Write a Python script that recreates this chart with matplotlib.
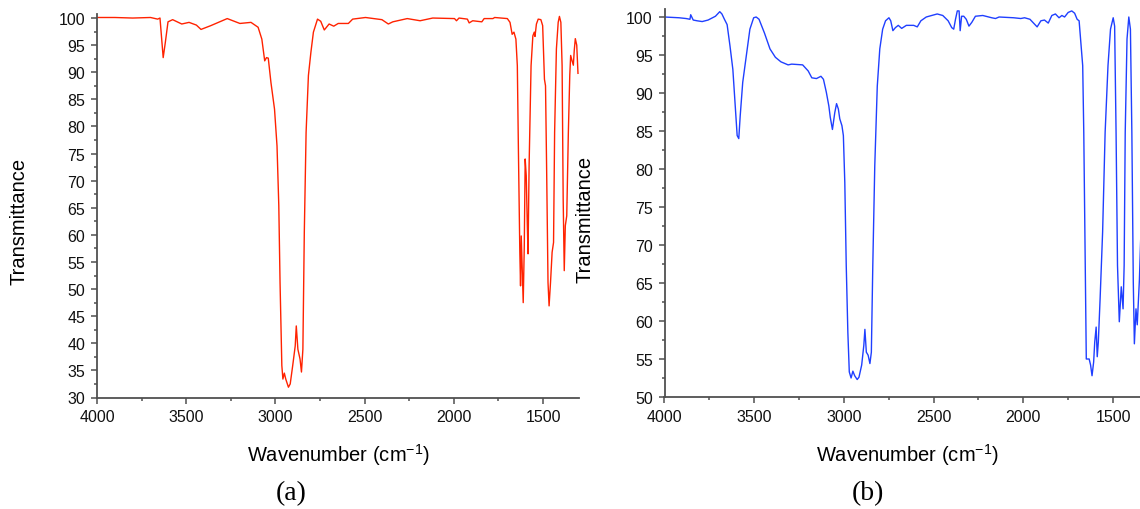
import matplotlib
matplotlib.use("Agg")
import matplotlib.pyplot as plt
from matplotlib.ticker import MultipleLocator

plt.rcParams['font.family'] = ['Liberation Sans', 'DejaVu Sans']
plt.rcParams['mathtext.fontset'] = 'custom'
plt.rcParams['mathtext.rm'] = 'Liberation Sans'
plt.rcParams['mathtext.default'] = 'regular'

# spectrum (a): wavenumber (cm-1) and transmittance (%)
wn_a = [4000, 3900, 3800, 3700, 3660, 3647, 3629, 3617, 3602, 3576, 3525, 3484,
        3443, 3417, 3362, 3270, 3199, 3137, 3097, 3076, 3060, 3050, 3040, 3025,
        3005, 2991, 2981, 2974, 2964, 2958, 2950, 2942, 2927, 2917, 2903, 2889,
        2883, 2874, 2862, 2854, 2846, 2838, 2828, 2815, 2801, 2787, 2764, 2746,
        2726, 2699, 2673, 2648, 2591, 2567, 2495, 2403, 2367, 2342, 2261, 2189,
        2118, 1996, 1985, 1971, 1924, 1914, 1894, 1843, 1830, 1781, 1771, 1700,
        1685, 1673, 1663, 1652, 1644, 1638, 1630, 1626, 1622, 1616, 1611, 1605,
        1600, 1594, 1588, 1584, 1578, 1567, 1557, 1549, 1545, 1537, 1527, 1512,
        1502, 1492, 1486, 1480, 1472, 1466, 1458, 1449, 1441, 1435, 1425, 1415,
        1408, 1400, 1393, 1387, 1381, 1375, 1367, 1358, 1350, 1345, 1338, 1330,
        1325, 1319, 1311, 1304]
tr_a = [100.1, 100.1, 100.0, 100.1, 99.8, 100.0, 92.7, 95.5, 99.3, 99.7, 98.9, 99.2,
        98.7, 97.9, 98.6, 99.9, 99.0, 99.2, 98.3, 96.1, 92.1, 92.7, 92.6, 88.1,
        83.2, 76.4, 65.4, 51.2, 35.9, 33.4, 34.5, 33.4, 31.9, 32.5, 35.9, 39.5,
        43.2, 38.9, 37.1, 34.7, 38.9, 60.5, 78.9, 89.4, 93.7, 97.4, 99.8, 99.4,
        97.8, 98.9, 98.5, 99.0, 99.0, 99.8, 100.1, 99.7, 98.9, 99.3, 99.9, 99.5,
        100.0, 99.9, 99.5, 100.0, 99.8, 99.1, 99.5, 99.3, 99.9, 99.9, 100.1, 99.9,
        99.2, 97.0, 97.4, 96.1, 91.2, 75.8, 56.8, 50.6, 59.8, 53.1, 47.5, 58.0,
        74.0, 70.9, 61.7, 56.5, 72.8, 91.2, 96.7, 97.4, 96.6, 98.9, 99.8, 99.7,
        98.6, 88.7, 87.5, 72.8, 51.2, 46.9, 51.2, 56.8, 58.6, 78.9, 94.3, 99.2,
        100.3, 99.2, 91.2, 66.6, 53.4, 61.7, 63.5, 78.9, 89.5, 93.1, 92.2, 91.3,
        94.0, 96.2, 95.0, 89.8]

# spectrum (b)
wn_b = [4000, 3919, 3880, 3858, 3854, 3840, 3818, 3790, 3757, 3716, 3692, 3680,
        3666, 3651, 3635, 3619, 3605, 3595, 3586, 3578, 3564, 3544, 3524, 3503,
        3489, 3473, 3443, 3412, 3382, 3351, 3311, 3291, 3230, 3199, 3179, 3153,
        3128, 3114, 3098, 3084, 3076, 3064, 3051, 3041, 3031, 3023, 3011, 3003,
        2995, 2987, 2978, 2970, 2960, 2950, 2940, 2926, 2916, 2901, 2889, 2883,
        2875, 2865, 2855, 2847, 2839, 2828, 2814, 2800, 2784, 2768, 2749, 2739,
        2727, 2713, 2697, 2678, 2652, 2611, 2591, 2571, 2541, 2480, 2449, 2419,
        2399, 2388, 2378, 2368, 2358, 2352, 2344, 2332, 2318, 2303, 2287, 2267,
        2226, 2176, 2155, 2135, 2054, 2014, 1993, 1963, 1923, 1902, 1882, 1861,
        1841, 1821, 1801, 1785, 1770, 1750, 1730, 1714, 1700, 1689, 1679, 1669,
        1663, 1655, 1649, 1641, 1633, 1625, 1617, 1608, 1602, 1594, 1588, 1582,
        1572, 1558, 1544, 1528, 1514, 1499, 1491, 1483, 1475, 1465, 1454, 1444,
        1438, 1432, 1422, 1412, 1403, 1395, 1387, 1381, 1372, 1365, 1353, 1340,
        1330, 1320]
tr_b = [100.0, 99.9, 99.8, 99.7, 100.3, 99.6, 99.5, 99.4, 99.6, 100.1, 100.7, 100.4,
        99.7, 99.0, 96.2, 93.1, 87.9, 84.4, 84.0, 87.0, 91.4, 94.9, 98.4, 99.9,
        100.0, 99.7, 97.9, 95.8, 94.7, 94.1, 93.7, 93.8, 93.7, 92.9, 92.0, 91.9,
        92.2, 91.8, 90.1, 88.3, 86.8, 85.2, 87.4, 88.6, 87.9, 86.6, 85.7, 84.4,
        78.2, 67.3, 58.5, 53.3, 52.5, 53.4, 52.8, 52.3, 52.6, 54.2, 56.8, 58.9,
        55.9, 55.5, 54.4, 55.9, 67.3, 80.4, 90.9, 95.8, 98.4, 99.5, 99.9, 99.5,
        98.2, 98.6, 98.9, 98.5, 98.9, 98.9, 98.7, 99.5, 100.0, 100.4, 100.2, 99.5,
        98.6, 98.4, 99.7, 100.8, 100.8, 98.2, 100.1, 100.1, 99.7, 98.8, 99.3, 100.1,
        100.2, 99.9, 99.8, 100.0, 99.9, 99.8, 99.9, 99.7, 98.7, 99.5, 99.6, 99.2,
        100.2, 100.4, 99.9, 100.2, 100.0, 100.6, 100.8, 100.5, 99.7, 99.5, 96.6, 93.6,
        84.8, 67.3, 55.0, 55.0, 55.0, 54.2, 52.8, 54.6, 57.2, 59.2, 55.3, 57.2,
        62.9, 71.7, 84.8, 93.6, 98.4, 99.9, 98.8, 84.8, 67.3, 59.9, 64.5, 61.6,
        67.3, 84.8, 97.1, 100.0, 98.4, 84.8, 65.1, 57.0, 61.6, 59.5, 65.4, 75.0,
        85.0, 92.0]

W, H = 1140, 510
fig = plt.figure(figsize=(W / 100, H / 100), dpi=100)

ax_a = fig.add_axes([97 / W, 111.5 / H, 481.7 / W, 383.8 / H])
ax_b = fig.add_axes([664.5 / W, 112 / H, 484.4 / W, 387.6 / H])

ax_a.plot(wn_a, tr_a, color='#ff2200', lw=1.0)
ax_b.plot(wn_b, tr_b, color='#1f3fff', lw=1.0)

ax_a.set_ylim(30, 100.8)
ax_b.set_ylim(50, 101)

for ax in (ax_a, ax_b):
    ax.set_xlim(4000, 1300)
    ax.xaxis.set_major_locator(MultipleLocator(500))
    ax.xaxis.set_minor_locator(MultipleLocator(250))
    ax.yaxis.set_major_locator(MultipleLocator(5))
    ax.yaxis.set_minor_locator(MultipleLocator(2.5))
    for side in ('top', 'right'):
        ax.spines[side].set_visible(False)
    for side in ('left', 'bottom'):
        ax.spines[side].set_color('#505050')
        ax.spines[side].set_linewidth(1.3)
    ax.tick_params(which='both', direction='out', color='#505050', width=1.1,
                   labelsize=11.5, labelcolor='#111111', pad=4)
    ax.tick_params(which='major', length=4.5)
    ax.tick_params(which='minor', length=2.5)

ax_a.set_yticks(range(30, 101, 5))
ax_b.set_yticks(range(50, 101, 5))

fig.text(19 / W, 1 - 221 / H, 'Transmittance', rotation=90, fontsize=14.5,
         ha='center', va='center')
fig.text(585 / W, 1 - 219 / H, 'Transmittance', rotation=90, fontsize=14.5,
         ha='center', va='center')
fig.text(338 / W, 1 - 455 / H, 'Wavenumber (cm$^{-1}$)', fontsize=14.5,
         ha='center', va='center')
fig.text(907 / W, 1 - 455 / H, 'Wavenumber (cm$^{-1}$)', fontsize=14.5,
         ha='center', va='center')
fig.text(291 / W, 1 - 494 / H, '(a)', fontsize=20, family='Liberation Serif',
         ha='center', va='center')
fig.text(868 / W, 1 - 494 / H, '(b)', fontsize=20, family='Liberation Serif',
         ha='center', va='center')

fig.savefig('out.png', dpi=100)
